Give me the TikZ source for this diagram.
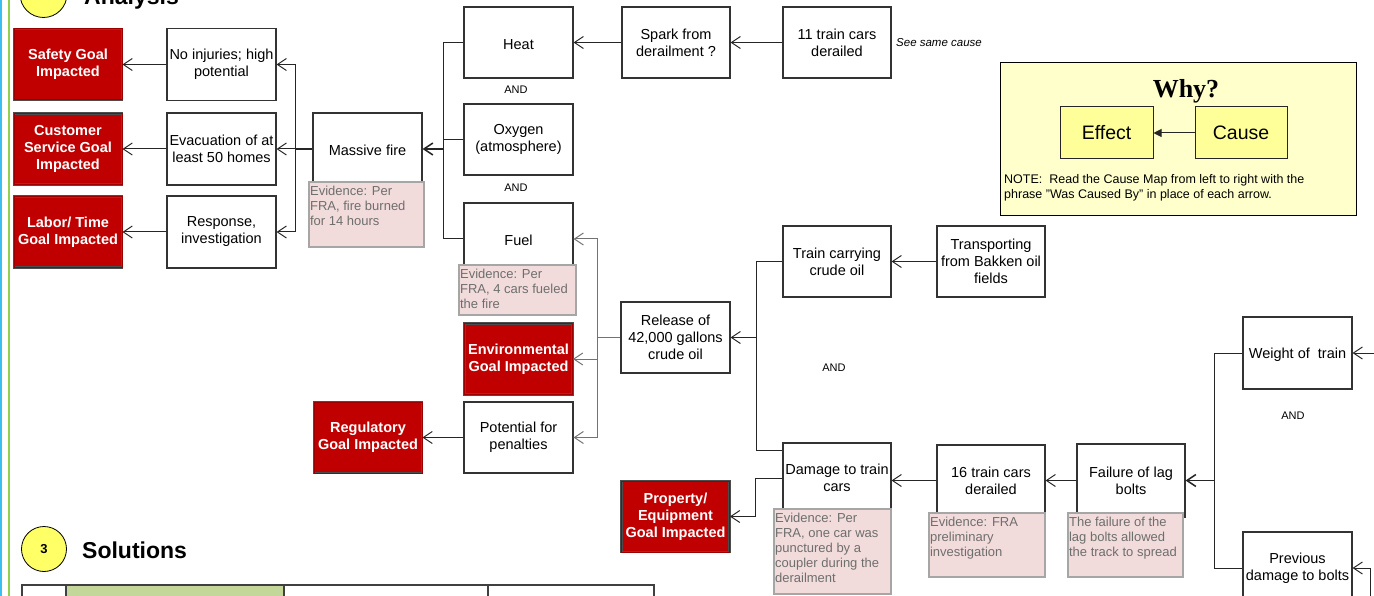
\documentclass[tikz,border=0pt]{standalone}
\usepackage{fontspec}
\setmainfont{Liberation Sans}
\newfontfamily\whyfont{Liberation Serif}
\usetikzlibrary{arrows.meta,calc}
\definecolor{goalred}{HTML}{C00000}
\definecolor{evfill}{HTML}{F2DCDB}
\definecolor{evtext}{HTML}{6E6E6E}
\definecolor{evdraw}{HTML}{A6A6A6}
\definecolor{whyfill}{HTML}{FFFFCC}
\definecolor{ecfill}{HTML}{FFFF99}
\definecolor{circfill}{HTML}{FFFF66}
\definecolor{stripeblue}{HTML}{3DBEF0}
\definecolor{stripegreen}{HTML}{92D050}
\definecolor{tablegreen}{HTML}{C4D79B}
\begin{document}
\begin{tikzpicture}[x=1pt,y=-1pt,
  box/.style={draw=black!80, line width=1.1pt, fill=white, minimum width=109pt, minimum height=72pt, inner sep=0.5pt, align=center, font=\fontsize{14.5}{17}\selectfont, execute at begin node={\rule{0pt}{13.5pt}}},
  goal/.style={box, fill=goalred, text=white, font=\bfseries\fontsize{14.5}{17}\selectfont, draw=black!70, line width=0.8pt, double=goalred!80!black, double distance=1pt, minimum width=108pt, minimum height=71pt},
  evid/.style={draw=evdraw, line width=1.2pt, fill=evfill, inner sep=0pt},
  evtxt/.style={anchor=north west, inner sep=1.5pt, yshift=-3pt, align=left, text=evtext, font=\fontsize{13}{15}\selectfont},
  conn/.style={draw=black!85, line width=1pt},
  gconn/.style={draw=black!55, line width=1pt},
  arr/.style={conn, -{Straight Barb[length=9pt,width=12pt]}},
  garr/.style={gconn, -{Straight Barb[length=9pt,width=12pt]}},
  andlbl/.style={font=\fontsize{11}{13}\selectfont, inner sep=0pt},
  circ/.style={circle, draw=black, line width=0.8pt, fill=circfill, inner sep=0pt, font=\bfseries\fontsize{13}{15}\selectfont},
  heading/.style={anchor=base west, inner sep=0pt, font=\bfseries\fontsize{23}{26}\selectfont}
]
\useasboundingbox (0,0) rectangle (1374,596);
\fill[white] (0,0) rectangle (1374,596);

% side stripes
\draw[stripeblue, line width=2.5pt] (1.2,-10) -- (1.2,610);
\draw[stripegreen, line width=2pt] (9,-10) -- (9,610);

% headings
\node[circ, minimum size=47pt] (c2) at (43.5,-6) {2};
\node[heading] (analysis) at (84,5) {Analysis};
\node[circ, minimum size=45pt] (c3) at (44,549) {3};
\node[heading] (solutions) at (82,558) {Solutions};

% table top
\fill[tablegreen] (66,585) rectangle (284,600);
\draw[black!75, line width=1.2pt] (22,585) -- (22,600) (66,585) -- (66,600) (284,585) -- (284,600) (488,585) -- (488,600) (654,585) -- (654,600);
\draw[black!75, line width=2pt] (21,585) -- (655,585);

% goals (left)
\node[goal] (safety) at (68,64.5) {Safety Goal\\Impacted};
\node[goal] (cust) at (68,149) {Customer\\Service Goal\\Impacted};
\node[goal] (labor) at (68,232) {Labor/ Time\\Goal Impacted};

\node[box] (noinj) at (221.5,64.5) {No injuries; high\\potential};
\node[box] (evac) at (221.5,149) {Evacuation of at\\least 50 homes};
\node[box] (resp) at (221.5,232) {Response,\\investigation};

\node[box] (fire) at (367.5,149) {Massive fire};
\node[evid, minimum width=115pt, minimum height=65pt] (fireev) at (366.5,214.5) {};
\node[evtxt] (fireevt) at (fireev.north west) {Evidence: Per\\FRA, fire burned\\for 14 hours};

\node[box, minimum height=71pt] (heat) at (518.5,42.5) {Heat};
\node[andlbl] (and1) at (516,90) {AND};
\node[box, minimum height=71pt] (oxy) at (518.5,139.5) {Oxygen\\(atmosphere)};
\node[andlbl] (and2) at (516,188) {AND};
\node[box] (fuel) at (518.5,239) {Fuel};
\node[evid, minimum width=117pt, minimum height=50pt] (fuelev) at (517.5,290) {};
\node[evtxt] (fuelevt) at (fuelev.north west) {Evidence: Per\\FRA, 4 cars fueled\\the fire};

\node[box, minimum width=108pt, minimum height=71pt] (spark) at (676,42.5) {Spark from\\derailment ?};
\node[box, minimum width=108pt, minimum height=71pt] (cars11) at (837,42.5) {11 train cars\\derailed};
\node[anchor=west, inner sep=0pt, font=\itshape\fontsize{11.5}{13}\selectfont] (same) at (896,43) {See same cause};

% legend
\node[draw=black, line width=1pt, fill=whyfill, minimum width=356pt, minimum height=153pt, inner sep=0pt] (why) at (1178,139.5) {};
\node[anchor=base, inner sep=0pt, font=\whyfont\bfseries\fontsize{26}{30}\selectfont] (whyt) at (1186,98) {Why?};
\node[draw=black!85, line width=1pt, fill=ecfill, minimum width=93pt, minimum height=52pt, font=\fontsize{19.5}{22}\selectfont] (effect) at (1106.5,133) {Effect};
\node[draw=black!85, line width=1pt, fill=ecfill, minimum width=92pt, minimum height=52pt, font=\fontsize{19.5}{22}\selectfont] (cause) at (1241,133) {Cause};
\draw[conn, -{Triangle[length=8pt,width=8pt]}] (cause) -- (effect);
\node[anchor=north west, align=left, inner sep=0pt, font=\fontsize{12.5}{15}\selectfont] (note) at (1004,174) {NOTE:\ \ Read the Cause Map from left to right with the\\phrase "Was Caused By" in place of each arrow.};

% middle
\node[goal] (env) at (518.5,359) {Environmental\\Goal Impacted};
\node[goal] (reg) at (368,437.5) {Regulatory\\Goal Impacted};
\node[box, minimum height=71pt] (pen) at (518.5,437.5) {Potential for\\penalties};
\node[box, minimum height=71pt] (rel) at (675.5,337.5) {Release of\\42,000 gallons\\crude oil};
\node[box, minimum width=108pt, minimum height=71pt] (train) at (837,261.5) {Train carrying\\crude oil};
\node[box, minimum width=108pt, minimum height=71pt] (transp) at (991,261.5) {Transporting\\from Bakken oil\\fields};
\node[andlbl] (and3) at (834,368) {AND};

\node[box, minimum width=108pt, minimum height=70pt] (dam) at (837,478) {Damage to train\\cars};
\node[goal] (prop) at (675.5,516.5) {Property/\\Equipment\\Goal Impacted};
\node[evid, minimum width=117pt, minimum height=85pt] (damev) at (832.5,551.5) {};
\node[evtxt] (damevt) at (damev.north west) {Evidence: Per\\FRA, one car was\\punctured by a\\coupler during the\\derailment};

\node[box, minimum width=108pt, minimum height=71pt] (der16) at (991,480.5) {16 train cars\\derailed};
\node[evid, minimum width=116pt, minimum height=64pt] (der16ev) at (987,545) {};
\node[evtxt] (der16evt) at (der16ev.north west) {Evidence: FRA\\preliminary\\investigation};

\node[box, minimum width=108pt, minimum height=73pt] (fail) at (1131,480.5) {Failure of lag\\bolts};
\node[evid, minimum width=115pt, minimum height=64pt] (failev) at (1125.5,545) {};
\node[evtxt] (failevt) at (failev.north west) {The failure of the\\lag bolts allowed\\the track to spread};

\node[box] (weight) at (1297.5,353) {Weight of\ \ train};
\node[andlbl] (and4) at (1293,416) {AND};
\node[box, inner sep=0pt] (prev) at (1297.5,568) {Previous\\damage to bolts};

% connectors
\coordinate (b1) at (295,149);
\draw[conn, line width=2pt] (fire.west) -- (b1);
\draw[arr] (b1) |- (noinj.east);
\draw[arr] (b1) -- (evac.east);
\draw[arr] (b1) |- (resp.east);
\draw[arr] (noinj.west) -- (safety.east);
\draw[arr] (evac.west) -- (cust.east);
\draw[arr] (resp.west) -- (labor.east);

\coordinate (b2) at (443,149);
\draw[arr, line width=1.5pt] (b2) -- (fire.east);
\draw[conn] (b2) |- (heat.west);
\draw[conn] (b2) |- (oxy.west);
\draw[conn] (b2) |- (fuel.west);
\draw[arr] (spark.west) -- (heat.east);
\draw[arr] (cars11.west) -- (spark.east);

\coordinate (b3) at (597,337.5);
\draw[gconn] (rel.west) -- (b3);
\draw[garr] (b3) |- (fuel.east);
\draw[garr] (b3) |- (env.east);
\draw[garr] (b3) |- (pen.east);
\draw[arr] (pen.west) -- (reg.east);

\coordinate (b4) at (756,337.5);
\coordinate (dtop) at (0,450);
\draw[arr] (b4) -- (rel.east);
\draw[conn] (b4) |- (train.west);
\draw[conn] (b4) |- (dam.west |- dtop);
\draw[arr] (dam.west) -- ++(-27,0) |- (prop.east);
\draw[arr] (transp.west) -- (train.east);
\draw[arr] (der16.west) -- (der16.west -| dam.east);
\draw[arr] (fail.west) -- (der16.east);

\coordinate (b5) at (1214,480.5);
\draw[arr, line width=1.5pt] (b5) -- (fail.east);
\draw[conn] (b5) |- (weight.west);
\draw[conn] (b5) |- (prev.west);
\coordinate (rw) at (1380,353);
\draw[arr] (rw) -- (weight.east);
\coordinate (rp) at (1370,610);
\draw[arr] (rp) |- (prev.east);
\end{tikzpicture}
\end{document}
